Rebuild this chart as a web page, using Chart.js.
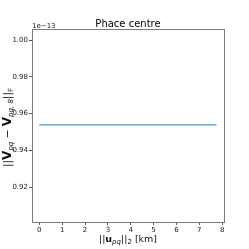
<!DOCTYPE html>
<html><head><meta charset="utf-8">
<script src="https://cdn.jsdelivr.net/npm/chart.js@4"></script>
<style>html,body{margin:0;padding:0;background:#fff}canvas{display:block}</style>
</head><body>
<canvas id="c" width="249" height="249"></canvas>
<script>
// Data (y in units of 1e-13)
const baselineKm = [0, 7.75];
const normDiff = [0.9538, 0.9538];
const yTicks = [0.92, 0.94, 0.96, 0.98, 1.00];
const xTicks = [0, 1, 2, 3, 4, 5, 6, 7, 8];
const titleText = 'Phace centre';
const offsetText = '1e\u221213';

const FONT = '"DejaVu Sans", sans-serif';

function drawRich(ctx, segs, x, y, align) {
  let total = 0;
  segs.forEach(s => { ctx.font = `${s.style||'normal'} ${s.weight||'normal'} ${s.size}px ${FONT}`; s.w = ctx.measureText(s.t).width; total += s.w; });
  let cx = align === 'center' ? x - total/2 : x;
  segs.forEach(s => {
    ctx.font = `${s.style||'normal'} ${s.weight||'normal'} ${s.size}px ${FONT}`;
    ctx.fillText(s.t, cx, y + (s.dy||0));
    cx += s.w;
  });
}

const decor = {
  id: 'decor',
  afterDraw(chart) {
    const {ctx, chartArea: a} = chart;
    ctx.save();
    ctx.strokeStyle = '#7a7a7a';
    ctx.lineWidth = 1;
    ctx.strokeRect(Math.round(a.left)+0.5, Math.round(a.top)+0.5, Math.round(a.right-a.left), Math.round(a.bottom-a.top));
    ctx.fillStyle = '#000';
    ctx.textBaseline = 'alphabetic';
    ctx.textAlign = 'left';
    ctx.font = `10px ${FONT}`;
    const tw = ctx.measureText(titleText).width;
    ctx.fillText(titleText, (a.left+a.right)/2 - tw/2, a.top - 2);
    ctx.fillStyle = '#222';
    ctx.font = `7px ${FONT}`;
    ctx.fillText(offsetText, a.left, a.top - 1.5);
    // x label
    ctx.fillStyle = '#111';
    drawRich(ctx, [
      {t:'||', size:9.5},
      {t:'u', size:9.5, weight:'bold'},
      {t:'pq', size:7, style:'italic', dy:2},
      {t:'||', size:9.5},
      {t:'2', size:7, dy:2},
      {t:' [km]', size:9.5}
    ], (a.left+a.right)/2, 242, 'center');
    // y label
    ctx.translate(10.5, (a.top+a.bottom)/2 + 2);
    ctx.rotate(-Math.PI/2);
    drawRich(ctx, [
      {t:'||', size:10.5},
      {t:'V', size:12, weight:'bold'},
      {t:'pq', size:7, style:'italic', dy:2},
      {t:' \u2212 ', size:10.5},
      {t:'V', size:12, weight:'bold'},
      {t:'pq, 8', size:7, style:'italic', dy:2},
      {t:'||', size:10.5},
      {t:'F', size:7, dy:2}
    ], 0, 0, 'center');
    ctx.restore();
  }
};

new Chart(document.getElementById('c'), {
  type: 'line',
  data: {
    labels: baselineKm,
    datasets: [{
      data: baselineKm.map((x, i) => ({x, y: normDiff[i]})),
      borderColor: '#4f93cf',
      borderWidth: 1.2,
      pointRadius: 0,
      fill: false,
      tension: 0
    }]
  },
  options: {
    responsive: false,
    animation: false,
    devicePixelRatio: 1,
    layout: {padding: {left: 0, right: 25, top: 29, bottom: 0}},
    plugins: {legend: {display: false}, tooltip: {enabled: false}, title: {display: false}},
    scales: {
      x: {
        type: 'linear', min: -0.32, max: 8.08,
        afterBuildTicks: s => { s.ticks = xTicks.map(v => ({value: v})); },
        afterFit: s => { s.height = 27; },
        grid: {drawOnChartArea: false, tickLength: 3, color: '#555', tickColor: '#555'},
        border: {display: false},
        ticks: {font: {family: FONT, size: 7}, color: '#222', padding: 1, maxRotation: 0, callback: v => String(v)}
      },
      y: {
        type: 'linear', min: 0.901, max: 1.006,
        afterBuildTicks: s => { s.ticks = yTicks.map(v => ({value: v})); },
        afterFit: s => { s.width = 32; },
        grid: {drawOnChartArea: false, tickLength: 3, color: '#555', tickColor: '#555'},
        border: {display: false},
        ticks: {font: {family: FONT, size: 7}, color: '#222', padding: 1, callback: v => Number(v).toFixed(2)}
      }
    }
  },
  plugins: [decor]
});
</script>
</body></html>
